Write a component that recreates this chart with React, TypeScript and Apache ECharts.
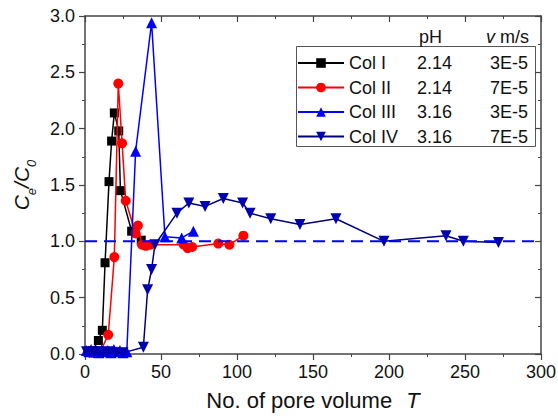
import React, { useEffect, useRef } from "react";
import * as echarts from "echarts";

const FONT = "'Liberation Sans', Arial, sans-serif";

const seriesNames = ["Col I", "Col II", "Col III", "Col IV"];
const phValues = ["2.14", "2.14", "3.16", "3.16"];
const velocityValues = ["3E-5", "7E-5", "3E-5", "7E-5"];

const colI: [number, number][] = [
  [2, 0.02], [5, 0.03], [8.8, 0.12], [11.4, 0.21], [13.2, 0.81], [15.8, 1.53],
  [17.5, 1.89], [19.3, 2.14], [22.2, 1.98], [23.3, 1.45], [30.7, 1.09], [37, 1.01],
];
const colII: [number, number][] = [
  [5, 0.01], [10, 0.02], [15.3, 0.17], [19.3, 0.86], [21.9, 2.4], [24.4, 1.87],
  [26.8, 1.36], [33.3, 1.07], [34.8, 1.14], [37.5, 0.97], [40, 0.96], [43, 0.97],
  [65, 0.97], [67.5, 0.94], [70.5, 0.95], [87.7, 0.98], [95, 0.97], [104.2, 1.05],
];
const colIII: [number, number][] = [
  [1, 0.03], [2.5, 0.02], [4, 0.04], [5.5, 0.02], [7, 0.03], [9, 0.01],
  [11, 0.04], [13, 0.02], [15, 0.03], [17, 0.01], [19, 0.04], [21, 0.02],
  [23, 0.03], [25, 0.01], [27.5, 0.02], [33.3, 1.8], [43.8, 2.94], [52.6, 1.04],
  [63.6, 1.03], [71.3, 1.09],
];
const colIV: [number, number][] = [
  [1, 0.02], [3, 0.01], [6, 0.02], [9, 0.02], [12, 0.01], [15, 0.02], [20, 0.01],
  [25, 0.01], [38.4, 0.06], [41.2, 0.57], [43.8, 0.75], [46, 0.97], [60.5, 1.25],
  [68.3, 1.34], [79, 1.31], [91, 1.38], [103.7, 1.34], [108.6, 1.25], [122.2, 1.2],
  [141.4, 1.15], [165.1, 1.2], [196.7, 1.0], [237.5, 1.05], [248.9, 1.0], [272, 0.99],
];
const referenceLine: [number, number][] = [[0, 1], [300, 1]];

const xTicks = { min: 0, max: 300, interval: 50 };
const yTicks = { min: 0, max: 3, interval: 0.5 };

export default function App() {
  const ref = useRef<HTMLDivElement>(null);
  useEffect(() => {
    if (!ref.current) return;
    const chart = echarts.init(ref.current, null, { renderer: "svg" });
    const axisLineStyle = { color: "#444", width: 1.5 };
    const labelStyle = { fontFamily: FONT, fontSize: 18, color: "#111" };
    const baseX = {
      type: "value" as const,
      min: xTicks.min,
      max: xTicks.max,
      interval: xTicks.interval,
      splitLine: { show: false },
      axisLine: { show: true, onZero: false, lineStyle: axisLineStyle },
      minorTick: { show: true, splitNumber: 2, length: 3, lineStyle: { color: "#444", width: 1 } },
    };
    const baseY = {
      type: "value" as const,
      min: yTicks.min,
      max: yTicks.max,
      interval: yTicks.interval,
      splitLine: { show: false },
      axisLine: { show: true, onZero: false, lineStyle: axisLineStyle },
      minorTick: { show: true, splitNumber: 2, length: 3, lineStyle: { color: "#444", width: 1 } },
    };
    const colors = ["#000000", "#ff0000", "#0000ff", "#0000b0"];
    const lineColors = ["#000000", "#ff0000", "#0000ff", "#00007a"];
    const symbols = ["rect", "circle", "triangle", "triangle"];
    const sizes = [9, 10, 11, 11];
    const datas = [colI, colII, colIII, colIV];
    const series: any[] = datas.map((d, i) => ({
      name: seriesNames[i],
      type: "line",
      data: d,
      symbol: symbols[i],
      symbolSize: sizes[i],
      symbolRotate: i === 3 ? 180 : 0,
      showSymbol: true,
      itemStyle: { color: colors[i] },
      lineStyle: { color: lineColors[i], width: 1.5 },
      z: 2 + i,
    }));
    series.push({
      name: "ref",
      type: "line",
      data: referenceLine,
      symbol: "none",
      lineStyle: { color: "#0000ff", width: 2, type: [12, 7] },
      z: 10,
      silent: true,
    });
    chart.setOption({
      animation: false,
      grid: { left: 85, right: 17, top: 16, bottom: 62, outerBoundsMode: "none" },
      xAxis: [
        {
          ...baseX,
          position: "bottom",
          axisTick: { show: true, inside: false, length: 6, lineStyle: { color: "#444", width: 1.2 } },
          axisLabel: { ...labelStyle, margin: 9, alignMinLabel: "center", alignMaxLabel: "center" },
          name: "No. of pore volume {t|T}",
          nameLocation: "middle",
          nameGap: 35,
          nameTextStyle: {
            fontFamily: FONT,
            fontSize: 22,
            color: "#111",
            rich: { t: { fontFamily: FONT, fontSize: 22, fontStyle: "italic", color: "#111", padding: [0, 0, 0, 8] } },
          },
        },
        {
          ...baseX,
          position: "top",
          axisTick: { show: true, inside: true, length: 6, lineStyle: { color: "#444", width: 1.2 } },
          minorTick: { show: true, splitNumber: 2, length: 3, lineStyle: { color: "#444", width: 1 } },
          axisLabel: { show: false },
        },
      ],
      yAxis: [
        {
          ...baseY,
          position: "left",
          axisTick: { show: true, inside: false, length: 6, lineStyle: { color: "#444", width: 1.2 } },
          axisLabel: { ...labelStyle, margin: 10, formatter: (v: number) => v.toFixed(1) },
          name: "{i|C}{s|e}{i|/C}{s|0}",
          nameLocation: "middle",
          nameRotate: 90,
          nameGap: 47,
          nameTextStyle: {
            fontFamily: FONT,
            fontSize: 21,
            color: "#111",
            rich: {
              i: { fontFamily: FONT, fontSize: 21, fontStyle: "italic", color: "#111", lineHeight: 34, verticalAlign: "middle" },
              s: { fontFamily: FONT, fontSize: 13, fontStyle: "italic", color: "#111", lineHeight: 34, verticalAlign: "bottom" },
            },
          },
        },
        {
          ...baseY,
          position: "right",
          axisTick: { show: true, inside: true, length: 6, lineStyle: { color: "#444", width: 1.2 } },
          axisLabel: { show: false },
        },
      ],
      legend: {
        data: seriesNames,
        orient: "vertical",
        left: 297,
        top: 53,
        itemWidth: 46,
        itemHeight: 12,
        itemGap: 4.5,
        padding: 0,
        textStyle: {
          fontFamily: FONT,
          fontSize: 18,
          color: "#111",
          lineHeight: 20,
          rich: {
            n: { fontFamily: FONT, fontSize: 18, color: "#111", width: 68, lineHeight: 20 },
            p: { fontFamily: FONT, fontSize: 18, color: "#111", width: 73, lineHeight: 20 },
            v: { fontFamily: FONT, fontSize: 18, color: "#111", lineHeight: 20 },
          },
        },
        formatter: (name: string) => {
          const i = seriesNames.indexOf(name);
          return `{n|${name}}{p|${phValues[i]}}{v|${velocityValues[i]}}`;
        },
      },
      graphic: [
        {
          type: "rect",
          shape: { x: 296.5, y: 46.5, width: 239, height: 100 },
          style: { fill: "none", stroke: "#555", lineWidth: 1 },
          silent: true,
        },
        {
          type: "text",
          x: 419,
          y: 37,
          style: { text: "pH", font: `18px ${FONT}`, fill: "#111", verticalAlign: "middle" },
        },
        {
          type: "text",
          x: 486,
          y: 37,
          style: {
            text: "{i|v} m/s",
            font: `18px ${FONT}`,
            fill: "#111",
            verticalAlign: "middle",
            rich: { i: { fontStyle: "italic", fontFamily: FONT, fontSize: 18, fill: "#111" } },
          },
        },
      ],
      series,
    });
    return () => chart.dispose();
  }, []);
  return <div ref={ref} style={{ position: "fixed", left: 0, top: 0, width: 558, height: 416, background: "#fff" }} />;
}
